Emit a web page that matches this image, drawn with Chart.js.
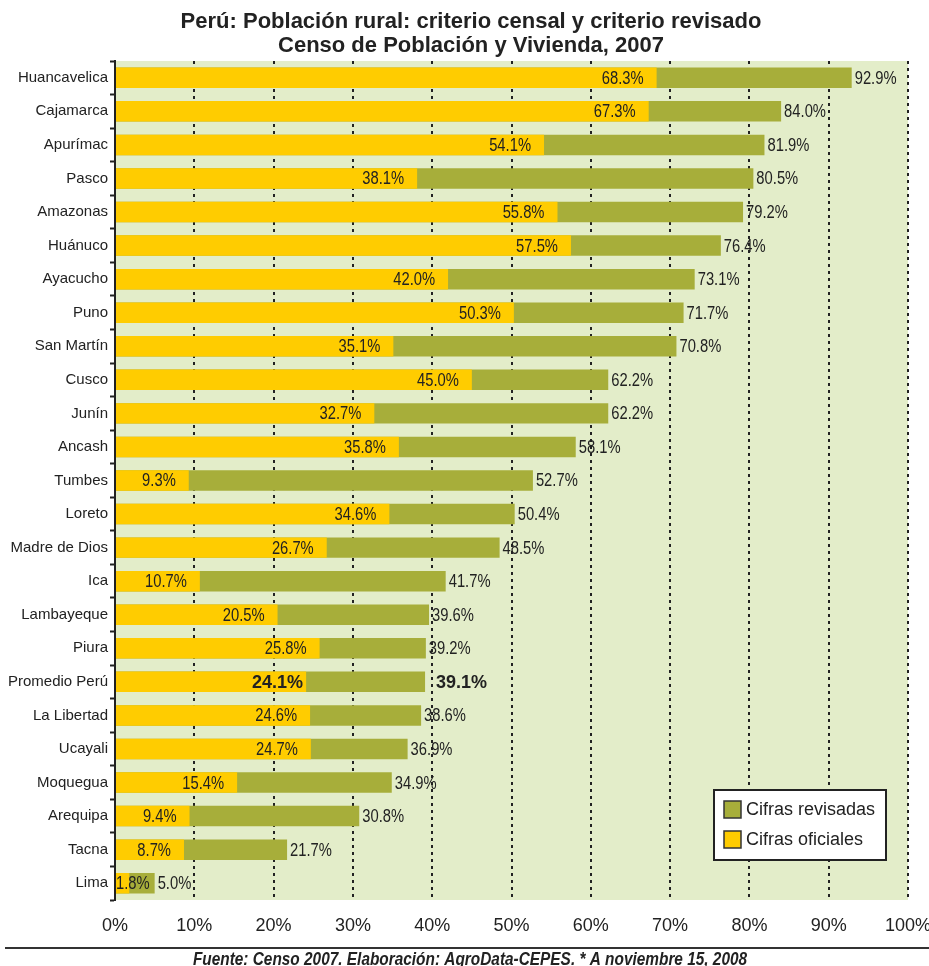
<!DOCTYPE html>
<html>
<head>
<meta charset="utf-8">
<script src="https://cdn.jsdelivr.net/npm/chart.js@4.4.0/dist/chart.umd.min.js"></script>
<style>
  html, body { margin: 0; padding: 0; background: #fff; }
</style>
</head>
<body>
<canvas id="c" width="929" height="966"></canvas>
<script>
// datos
const regiones = ['Huancavelica','Cajamarca','Apurímac','Pasco','Amazonas','Huánuco','Ayacucho','Puno',
  'San Martín','Cusco','Junín','Ancash','Tumbes','Loreto','Madre de Dios','Ica','Lambayeque','Piura',
  'Promedio Perú','La Libertad','Ucayali','Moquegua','Arequipa','Tacna','Lima'];
const oficiales = [68.3,67.3,54.1,38.1,55.8,57.5,42.0,50.3,35.1,45.0,32.7,35.8,9.3,34.6,26.7,10.7,20.5,25.8,
  24.1,24.6,24.7,15.4,9.4,8.7,1.8];
const revisadas = [92.9,84.0,81.9,80.5,79.2,76.4,73.1,71.7,70.8,62.2,62.2,58.1,52.7,50.4,48.5,41.7,39.6,39.2,
  39.1,38.6,36.9,34.9,30.8,21.7,5.0];
const ticksX = [0,10,20,30,40,50,60,70,80,90,100];
const titulo = ['Perú: Población rural: criterio censal y criterio revisado','Censo de Población y Vivienda, 2007'];
const fuente = 'Fuente: Censo 2007. Elaboración: AgroData-CEPES. * A noviembre 15, 2008';
const PROMEDIO = 'Promedio Perú';

const AMARILLO = '#ffcc00';
const OLIVA = '#a7ae3a';
const TEXTO = '#222';
const SANS = '"Liberation Sans", Arial, sans-serif';
const ESTRECHO = 0.82; // no hay fuente condensada: se comprime en horizontal

// texto comprimido: x es el borde izquierdo
function textoEstrecho(ctx, txt, x, y, k){
  ctx.save();
  ctx.translate(x, y);
  ctx.scale(k, 1);
  ctx.textAlign = 'left';
  ctx.fillText(txt, 0, 0);
  ctx.restore();
}

const fondo = {
  id: 'fondo',
  beforeDraw(chart){
    const {ctx, chartArea: a} = chart;
    ctx.save();
    ctx.fillStyle = '#e3edc9';
    ctx.fillRect(a.left, a.top, a.right - a.left, a.bottom - a.top);
    ctx.restore();
  }
};

const etiquetas = {
  id: 'etiquetas',
  afterDatasetsDraw(chart){
    const {ctx, chartArea: a} = chart;
    const rev = chart.getDatasetMeta(0).data;
    const ofi = chart.getDatasetMeta(1).data;
    ctx.save();
    ctx.fillStyle = TEXTO;
    ctx.textBaseline = 'middle';
    regiones.forEach((r, i) => {
      const prom = r === PROMEDIO;
      const k = prom ? 1 : ESTRECHO;
      ctx.font = prom ? 'bold 18px ' + SANS : '18px ' + SANS;
      // oficial, dentro de la barra amarilla
      const t1 = oficiales[i].toFixed(1) + '%';
      const w1 = ctx.measureText(t1).width * k;
      let x1 = ofi[i].x - (prom ? 3 : 13) - w1;
      if (x1 < a.left + 1) x1 = a.left + 1;
      textoEstrecho(ctx, t1, x1, ofi[i].y + 1, k);
      // revisada, a la derecha de la barra
      const t2 = revisadas[i].toFixed(1) + '%';
      textoEstrecho(ctx, t2, rev[i].x + (prom ? 11 : 3), rev[i].y + 1, k);
    });
    ctx.restore();
  },
  afterDraw(chart){
    const {ctx, chartArea: a, width, height} = chart;
    ctx.save();
    // título
    ctx.fillStyle = TEXTO;
    ctx.font = 'bold 22px ' + SANS;
    ctx.textAlign = 'center';
    ctx.textBaseline = 'alphabetic';
    titulo.forEach((t, k) => ctx.fillText(t, 471, 28 + k * 24));
    // leyenda
    const lx = a.right - 194, ly = a.bottom - 110;
    ctx.fillStyle = '#fff';
    ctx.fillRect(lx, ly, 172, 70);
    ctx.strokeStyle = TEXTO;
    ctx.lineWidth = 2;
    ctx.strokeRect(lx, ly, 172, 70);
    const items = [['Cifras revisadas', OLIVA], ['Cifras oficiales', AMARILLO]];
    items.forEach(([txt, col], k) => {
      const sy = ly + 11 + k * 30;
      ctx.fillStyle = col;
      ctx.fillRect(lx + 10, sy, 17, 17);
      ctx.lineWidth = 1.5;
      ctx.strokeStyle = '#333';
      ctx.strokeRect(lx + 10, sy, 17, 17);
      ctx.fillStyle = TEXTO;
      ctx.font = '18px ' + SANS;
      ctx.textAlign = 'left';
      ctx.textBaseline = 'middle';
      ctx.fillText(txt, lx + 32, sy + 9);
    });
    // pie
    ctx.strokeStyle = '#333';
    ctx.lineWidth = 2;
    ctx.beginPath();
    ctx.moveTo(5, 948);
    ctx.lineTo(width, 948);
    ctx.stroke();
    ctx.fillStyle = TEXTO;
    ctx.font = 'italic bold 19px ' + SANS;
    ctx.textBaseline = 'alphabetic';
    const wf = ctx.measureText(fuente).width * 0.81;
    textoEstrecho(ctx, fuente, 470 - wf / 2, height - 1, 0.81);
    ctx.restore();
  }
};

new Chart(document.getElementById('c'), {
  type: 'bar',
  data: {
    labels: regiones,
    datasets: [
      { label: 'Cifras revisadas', data: revisadas, backgroundColor: OLIVA, order: 2 },
      { label: 'Cifras oficiales', data: oficiales, backgroundColor: AMARILLO, order: 1 }
    ]
  },
  options: {
    indexAxis: 'y',
    responsive: false,
    animation: false,
    devicePixelRatio: 1,
    layout: { padding: { left: 0, right: 0, top: 61, bottom: 32 } },
    datasets: { bar: { grouped: false, categoryPercentage: 1, barPercentage: 0.61, borderWidth: 0 } },
    plugins: {
      legend: { display: false },
      tooltip: { enabled: false },
      title: { display: false }
    },
    scales: {
      x: {
        min: 0, max: 100,
        afterBuildTicks(scale){ scale.ticks = ticksX.map(v => ({ value: v })); },
        afterFit(scale){ scale.height = 34; scale.paddingLeft = 0; scale.paddingRight = 21; },
        ticks: { callback: v => v + '%', color: TEXTO, font: { family: SANS, size: 18 }, padding: 15, maxRotation: 0 },
        grid: { color: '#222', lineWidth: 2, drawTicks: false },
        border: { display: false, dash: [3, 4] }
      },
      y: {
        afterFit(scale){ scale.width = 115; },
        ticks: { color: TEXTO, font: { family: SANS, size: 15 }, padding: 2, autoSkip: false },
        grid: { drawOnChartArea: false, drawTicks: true, tickLength: 5, tickWidth: 2, tickColor: '#222', offset: true },
        border: { color: '#222', width: 2 }
      }
    }
  },
  plugins: [fondo, etiquetas]
});
</script>
</body>
</html>
